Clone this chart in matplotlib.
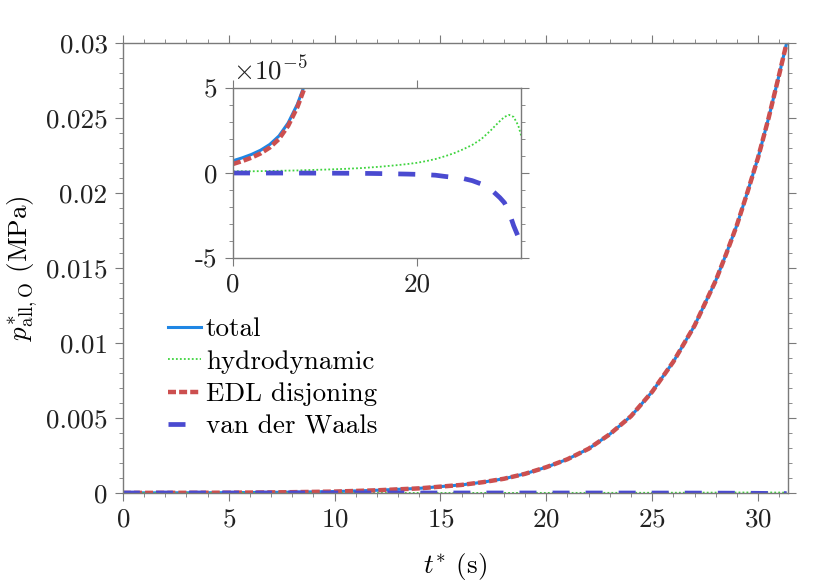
import matplotlib
matplotlib.use("Agg")
import matplotlib.pyplot as plt
from matplotlib.ticker import MultipleLocator
import numpy as np

plt.rcParams['font.family'] = 'serif'
plt.rcParams['font.serif'] = ['cmr10']
plt.rcParams['mathtext.fontset'] = 'cm'
plt.rcParams['axes.unicode_minus'] = False
plt.rcParams['axes.formatter.use_mathtext'] = True

# time (s)
t = [0, 1, 2, 3, 4, 5, 6, 7, 8, 10, 12, 14, 16, 17, 18, 19, 20, 21, 22, 23, 24, 25,
     26, 27, 28, 28.5, 29, 29.5, 30, 30.5, 31, 31.35]

# pressures (MPa)
p_total = [0.72e-5, 0.89e-5, 1.09e-5, 1.34e-5, 1.68e-5, 2.18e-5, 2.95e-5, 4.05e-5, 5.5e-5,
           9.6e-5, 1.8e-4, 3.1e-4, 5.4e-4, 7.2e-4, 9.5e-4, 1.28e-3, 1.72e-3, 2.25e-3,
           2.95e-3, 3.92e-3, 5.12e-3, 6.75e-3, 8.75e-3, 1.115e-2, 1.415e-2, 1.595e-2,
           1.785e-2, 2.005e-2, 2.235e-2, 2.5e-2, 2.79e-2, 3.0e-2]
p_edl = [0.53e-5, 0.7e-5, 0.9e-5, 1.15e-5, 1.5e-5, 2.0e-5, 2.78e-5, 3.88e-5, 5.33e-5,
         9.4e-5, 1.78e-4, 3.08e-4, 5.38e-4, 7.18e-4, 9.48e-4, 1.278e-3, 1.72e-3, 2.25e-3,
         2.95e-3, 3.92e-3, 5.12e-3, 6.75e-3, 8.75e-3, 1.115e-2, 1.415e-2, 1.595e-2,
         1.785e-2, 2.005e-2, 2.235e-2, 2.5e-2, 2.79e-2, 3.0e-2]
p_hydro = [0.10e-5, 0.10e-5, 0.10e-5, 0.11e-5, 0.12e-5, 0.13e-5, 0.14e-5, 0.15e-5, 0.17e-5,
           0.20e-5, 0.24e-5, 0.29e-5, 0.37e-5, 0.42e-5, 0.47e-5, 0.53e-5, 0.60e-5, 0.70e-5,
           0.82e-5, 0.98e-5, 1.16e-5, 1.39e-5, 1.65e-5, 2.0e-5, 2.5e-5, 2.78e-5, 3.05e-5,
           3.3e-5, 3.42e-5, 3.3e-5, 2.8e-5, 2.15e-5]
p_vdw = [-0.001e-5, -0.001e-5, -0.002e-5, -0.002e-5, -0.003e-5, -0.003e-5, -0.004e-5,
         -0.005e-5, -0.006e-5, -0.01e-5, -0.015e-5, -0.02e-5, -0.035e-5, -0.045e-5,
         -0.055e-5, -0.065e-5, -0.08e-5, -0.1e-5, -0.13e-5, -0.2e-5, -0.26e-5, -0.32e-5,
         -0.45e-5, -0.65e-5, -0.95e-5, -1.2e-5, -1.45e-5, -1.75e-5, -2.3e-5, -3.1e-5,
         -3.75e-5, -4.0e-5]

c_total = '#1f86e4'
c_hydro = '#3fd43f'
c_edl = '#cc4f4f'
c_vdw = '#4a4ad0'
spine_c = '#7a7a7a'
fs = 19.5


def draw(ax):
    ax.plot(t, p_total, color=c_total, lw=2.2, label='total')
    ax.plot(t, p_hydro, color=c_hydro, lw=1.3, dashes=(1, 1.2), label='hydrodynamic')
    ax.plot(t, p_edl, color=c_edl, lw=3.2, dashes=(1.8, 0.7), label='EDL disjoning')
    ax.plot(t, p_vdw, color=c_vdw, lw=3.4, dashes=(3.6, 3.4), label='van der Waals')
    for s in ax.spines.values():
        s.set_color(spine_c)
        s.set_linewidth(1.0)
    ax.tick_params(which='both', direction='out', top=True, right=True,
                   color=spine_c, labelcolor='#222222', labelsize=fs, pad=5)
    ax.tick_params(which='major', length=6)
    ax.tick_params(which='minor', length=3)


fig = plt.figure(figsize=(8.3, 5.81), dpi=100)

# Main axes
ax = fig.add_axes([0.148, 0.1515, 0.801, 0.7745])
draw(ax)
ax.set_xlim(0, 31.4)
ax.set_ylim(0, 0.03)
ax.set_xticks([0, 5, 10, 15, 20, 25, 30])
ax.set_yticks([0, 0.005, 0.01, 0.015, 0.02, 0.025, 0.03])
ax.set_yticklabels(['0', '0.005', '0.01', '0.015', '0.02', '0.025', '0.03'])
ax.xaxis.set_minor_locator(MultipleLocator(1))
ax.yaxis.set_minor_locator(MultipleLocator(0.001))
ax.set_xlabel(r'$t^{*}$ (s)', fontsize=fs, labelpad=14)
ax.set_ylabel(r'$p^{*}_{\rm all,O}$ (MPa)', fontsize=fs, labelpad=4)

leg = ax.legend(loc='upper left', bbox_to_anchor=(0.068, 0.39), frameon=False,
                fontsize=fs, handlelength=1.2, handletextpad=0.2,
                labelspacing=0.31, borderpad=0, borderaxespad=0)

# Inset
axi = fig.add_axes([0.2807, 0.556, 0.347, 0.2925])
draw(axi)
axi.set_xlim(0, 31.3)
axi.set_ylim(-5e-5, 5e-5)
axi.set_xticks([0, 20])
axi.set_xticklabels(['0', '20'])
axi.set_yticks([-5e-5, 0, 5e-5])
axi.set_yticklabels(['-5', '0', '5'])
axi.yaxis.set_minor_locator(MultipleLocator(1e-5))
axi.text(0.0, 1.02, r'$\times 10^{-5}$', transform=axi.transAxes, fontsize=fs,
         ha='left', va='bottom', color='#222222')

fig.savefig('out.png', dpi=100)
